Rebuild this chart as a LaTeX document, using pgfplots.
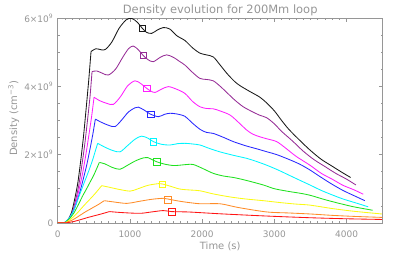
\documentclass[border=0pt]{standalone}
\usepackage{pgfplots}
\pgfplotsset{compat=1.18}
\usepackage{fontspec}
\setmainfont{DejaVu Sans}
\definecolor{txt}{RGB}{150,150,150}
\definecolor{cblack}{RGB}{25,25,25}
\definecolor{cpurple}{RGB}{150,45,150}
\definecolor{cmag}{RGB}{255,30,255}
\definecolor{cblue}{RGB}{40,40,255}
\definecolor{ccyan}{RGB}{0,245,255}
\definecolor{cgreen}{RGB}{30,225,30}
\definecolor{cyellow}{RGB}{250,250,20}
\definecolor{corange}{RGB}{255,140,40}
\definecolor{cred}{RGB}{255,20,20}
\begin{document}
\begin{tikzpicture}
\begin{axis}[
  at={(0,0)}, anchor=south west,
  scale only axis, width=324.7bp, height=204.7bp,
  xmin=0, xmax=4500, ymin=0, ymax=6,
  xtick={0,1000,2000,3000,4000}, minor x tick num=9,
  ytick={0,2,4,6},
  yticklabels={0,2×10\textsuperscript{9},4×10\textsuperscript{9},6×10\textsuperscript{9}},
  minor y tick num=3,
  scaled ticks=false,
  /pgf/number format/assume math mode=true,
  xticklabel style={/pgf/number format/1000 sep={}, anchor=base, yshift=-14.5bp},
  yticklabel style={anchor=east, xshift=-1bp},
  tick align=inside, major tick length=3.5bp, minor tick length=2bp,
  axis line style={txt, line width=0.6pt},
  every tick/.style={txt, line width=0.5pt},
  tick label style={font=\fontsize{9}{10}\selectfont, text=txt},
  every axis title shift=0pt,
  title={Density evolution for 200Mm loop},
  title style={at={(axis description cs:0.5,1.024)}, anchor=base, font=\fontsize{11.5}{12}\selectfont, text=txt, inner sep=0pt},
  xlabel={Time (s)},
  xlabel style={at={(axis description cs:0.5,-0.1285)}, anchor=base, font=\fontsize{10}{11}\selectfont, text=txt, inner sep=0pt},
  ylabel={Density (cm\textsuperscript{−3})},
  ylabel style={at={(axis description cs:-0.1253,0.51)}, anchor=base, rotate=0, font=\fontsize{10}{11}\selectfont, text=txt, inner sep=0pt},
  every axis plot/.append style={line width=0.85pt},
]
% black
\addplot[cblack, smooth, tension=0.4] coordinates {(0,0)(90,0)(120,0.04)(150,0.12)(190,0.3)(220,0.55)(250,0.85)(280,1.2)(320,1.85)(360,2.6)(400,3.5)(430,4.2)(461,5.02)};
\addplot[cblack, smooth] coordinates {(461,5.02)(530,5.1)(600,5.07)(660,5.08)(750,5.3)(850,5.7)(950,5.95)(1024,5.99)(1100,5.88)(1171,5.70)(1230,5.58)(1301,5.55)(1380,5.65)(1462,5.72)(1550,5.68)(1650,5.48)(1762,5.34)(1870,5.12)(1970,4.97)(2060,4.92)(2154,4.86)(2250,4.62)(2350,4.36)(2450,4.14)(2523,4.02)(2650,3.86)(2800,3.68)(2900,3.5)(3000,3.28)(3100,3.0)(3200,2.74)(3350,2.42)(3500,2.12)(3650,1.86)(3800,1.66)(3920,1.5)(4055,1.33)};
\addplot[cblack, only marks, mark=square, mark size=3.3bp, line width=0.8pt] coordinates {(1171,5.70)};
% purple
\addplot[cpurple, smooth, tension=0.4] coordinates {(0,0)(90,0)(120,0.04)(152,0.106)(195,0.266)(226,0.487)(257,0.753)(288,1.063)(331,1.64)(374,2.30)(417,3.10)(448,3.72)(475,4.43)};
\addplot[cpurple, smooth] coordinates {(475,4.43)(540,4.45)(620,4.38)(700,4.33)(800,4.5)(900,4.85)(980,5.1)(1047,5.18)(1120,5.06)(1185,4.90)(1250,4.78)(1323,4.72)(1420,4.85)(1508,4.92)(1600,4.85)(1693,4.72)(1762,4.62)(1870,4.4)(1970,4.23)(2060,4.2)(2154,4.16)(2250,4.0)(2350,3.8)(2450,3.6)(2569,3.40)(2700,3.25)(2800,3.15)(2893,3.08)(3000,2.9)(3100,2.68)(3250,2.4)(3400,2.1)(3550,1.85)(3700,1.65)(3850,1.45)(4000,1.28)(4129,1.11)};
\addplot[cpurple, only marks, mark=square, mark size=3.3bp, line width=0.8pt] coordinates {(1185,4.90)};
% magenta
\addplot[cmag, smooth, tension=0.4] coordinates {(0,0)(90,0)(120,0.05)(156,0.129)(202,0.294)(235,0.478)(268,0.736)(301,1.03)(346,1.47)(391,2.02)(437,2.65)(470,3.13)(503,3.68)};
\addplot[cmag, smooth] coordinates {(503,3.68)(580,3.58)(680,3.5)(770,3.47)(870,3.7)(970,4.02)(1070,4.16)(1150,4.08)(1232,3.94)(1290,3.86)(1347,3.82)(1440,3.92)(1531,3.99)(1640,3.92)(1762,3.79)(1870,3.55)(1970,3.40)(2062,3.35)(2154,3.34)(2246,3.28)(2385,3.16)(2500,2.95)(2616,2.72)(2700,2.6)(2800,2.52)(2900,2.46)(3031,2.38)(3150,2.2)(3300,1.95)(3492,1.69)(3650,1.45)(3800,1.28)(3950,1.1)(4100,0.97)(4230,0.84)};
\addplot[cmag, only marks, mark=square, mark size=3.3bp, line width=0.8pt] coordinates {(1232,3.94)};
% blue
\addplot[cblue, smooth, tension=0.4] coordinates {(0,0)(90,0)(120,0.05)(159,0.137)(206,0.304)(241,0.471)(275,0.684)(310,0.927)(357,1.31)(405,1.73)(452,2.22)(487,2.61)(521,3.04)};
\addplot[cblue, smooth] coordinates {(521,3.04)(600,2.95)(700,2.86)(793,2.82)(880,3.0)(980,3.25)(1070,3.37)(1116,3.39)(1200,3.3)(1278,3.19)(1393,3.11)(1480,3.18)(1554,3.21)(1650,3.19)(1762,3.12)(1850,2.95)(1970,2.74)(2060,2.65)(2154,2.62)(2300,2.5)(2431,2.38)(2600,2.26)(2754,2.17)(2900,2.08)(3031,2.0)(3200,1.86)(3350,1.72)(3492,1.55)(3650,1.33)(3800,1.13)(3950,0.95)(4100,0.8)(4253,0.65)};
\addplot[cblue, only marks, mark=square, mark size=3.3bp, line width=0.8pt] coordinates {(1287,3.18)};
% cyan
\addplot[ccyan, smooth, tension=0.4] coordinates {(0,0)(90,0)(120,0.05)(164,0.151)(215,0.338)(252,0.536)(289,0.746)(326,0.955)(377,1.235)(428,1.515)(479,1.817)(516,2.074)(553,2.33)};
\addplot[ccyan, smooth] coordinates {(553,2.33)(650,2.22)(760,2.12)(862,2.08)(960,2.25)(1070,2.45)(1160,2.54)(1250,2.48)(1324,2.38)(1440,2.30)(1554,2.28)(1660,2.32)(1762,2.33)(1870,2.31)(1970,2.28)(2100,2.18)(2246,2.08)(2430,1.98)(2616,1.89)(2750,1.8)(2893,1.69)(3050,1.55)(3200,1.4)(3350,1.25)(3492,1.11)(3650,0.95)(3800,0.82)(3950,0.7)(4150,0.57)(4299,0.47)};
\addplot[ccyan, only marks, mark=square, mark size=3.3bp, line width=0.8pt] coordinates {(1324,2.38)};
% green
\addplot[cgreen, smooth, tension=0.4] coordinates {(0,0)(95,0)(125,0.05)(172,0.142)(225,0.292)(263,0.443)(302,0.602)(340,0.770)(393,0.974)(446,1.186)(499,1.398)(538,1.584)(576,1.77)};
\addplot[cgreen, smooth] coordinates {(576,1.77)(650,1.73)(760,1.62)(862,1.57)(960,1.68)(1080,1.82)(1180,1.9)(1250,1.91)(1300,1.86)(1370,1.79)(1480,1.72)(1600,1.68)(1693,1.69)(1790,1.71)(1877,1.71)(2000,1.6)(2154,1.45)(2300,1.37)(2431,1.33)(2600,1.25)(2846,1.11)(3000,1.0)(3200,0.92)(3350,0.87)(3492,0.81)(3700,0.68)(3900,0.57)(4100,0.47)(4360,0.37)};
\addplot[cgreen, only marks, mark=square, mark size=3.3bp, line width=0.8pt] coordinates {(1370,1.79)};
% yellow
\addplot[cyellow, smooth, tension=0.4] coordinates {(0,0)(100,0)(135,0.045)(181,0.109)(237,0.218)(278,0.305)(319,0.403)(360,0.501)(416,0.627)(472,0.752)(528,0.883)(568,0.986)(609,1.09)};
\addplot[cyellow, smooth] coordinates {(609,1.09)(700,1.05)(850,0.98)(1001,0.93)(1100,0.99)(1250,1.1)(1400,1.15)(1448,1.14)(1550,1.08)(1693,0.99)(1850,0.96)(1970,0.94)(2150,0.85)(2385,0.76)(2600,0.7)(2846,0.65)(3100,0.59)(3300,0.55)(3492,0.52)(3800,0.42)(4100,0.34)(4490,0.26)};
\addplot[cyellow, only marks, mark=square, mark size=3.3bp, line width=0.8pt] coordinates {(1448,1.13)};
% orange
\addplot[corange, smooth, tension=0.4] coordinates {(0,0)(105,0)(140,0.03)(191,0.072)(251,0.143)(294,0.202)(337,0.26)(380,0.319)(440,0.39)(499,0.462)(559,0.533)(602,0.592)(645,0.65)};
\addplot[corange, smooth] coordinates {(645,0.65)(750,0.62)(955,0.57)(1100,0.62)(1300,0.69)(1462,0.72)(1522,0.70)(1700,0.63)(1970,0.56)(2246,0.56)(2500,0.45)(2893,0.32)(3200,0.29)(3500,0.26)(3800,0.22)(4100,0.19)(4490,0.16)};
\addplot[corange, only marks, mark=square, mark size=3.3bp, line width=0.8pt] coordinates {(1522,0.67)};
% red
\addplot[cred, smooth, tension=0.4] coordinates {(0,0)(120,0)(160,0.015)(215,0.036)(281,0.073)(328,0.102)(376,0.132)(423,0.162)(489,0.198)(554,0.234)(620,0.271)(667,0.300)(715,0.33)};
\addplot[cred, smooth] coordinates {(715,0.33)(900,0.30)(1139,0.28)(1300,0.32)(1462,0.36)(1578,0.33)(1800,0.32)(1970,0.30)(2300,0.26)(2893,0.20)(3500,0.15)(4000,0.12)(4490,0.10)};
\addplot[cred, only marks, mark=square, mark size=3.3bp, line width=0.8pt] coordinates {(1578,0.32)};
\end{axis}
\pgfresetboundingbox
\path (-57.7bp,-37.3bp) rectangle (341bp,222.7bp);
\end{tikzpicture}
\end{document}
